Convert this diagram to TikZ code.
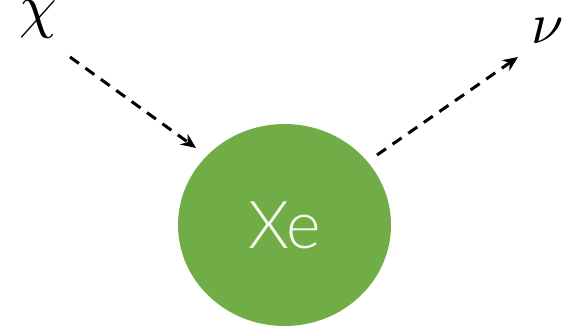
\documentclass[tikz,border=0pt]{standalone}
\usepackage{fontspec}
\usepackage{unicode-math}
\setmathfont{Latin Modern Math}
\usetikzlibrary{arrows.meta, shapes.geometric}
\newfontfamily\xefont{Lato Light}
\definecolor{xegreen}{HTML}{70AD47}
\definecolor{xetext}{HTML}{F4FAEC}
\begin{document}
\begin{tikzpicture}[x=1pt, y=-1pt,
		every node/.style={inner sep=0pt},
		flow/.style={line width=3pt, dash pattern=on 11pt off 8pt, -{Stealth[length=15pt, width=13pt]}}]
			\useasboundingbox (0,0) rectangle (567,331);

			\node[ellipse, fill=xegreen, minimum width=213pt, minimum height=202pt, font=\xefont\fontsize{66}{72}\selectfont, text=xetext] (xe) at (284.5,225) {Xe};

			\node[font=\fontsize{60}{64}\selectfont] (chi) at (38,19) {$\chi$};
			\node[font=\fontsize{58}{64}\selectfont] (nu) at (547,31) {$\nu$};

			\coordinate (inbeg) at (70,57);
			\coordinate (inend) at (196,148);
			\coordinate (outbeg) at (377,155);
			\coordinate (outend) at (518,57);
			\draw[flow] (inbeg) -- (inend);
			\draw[flow] (outbeg) -- (outend);
		\end{tikzpicture}
\end{document}
